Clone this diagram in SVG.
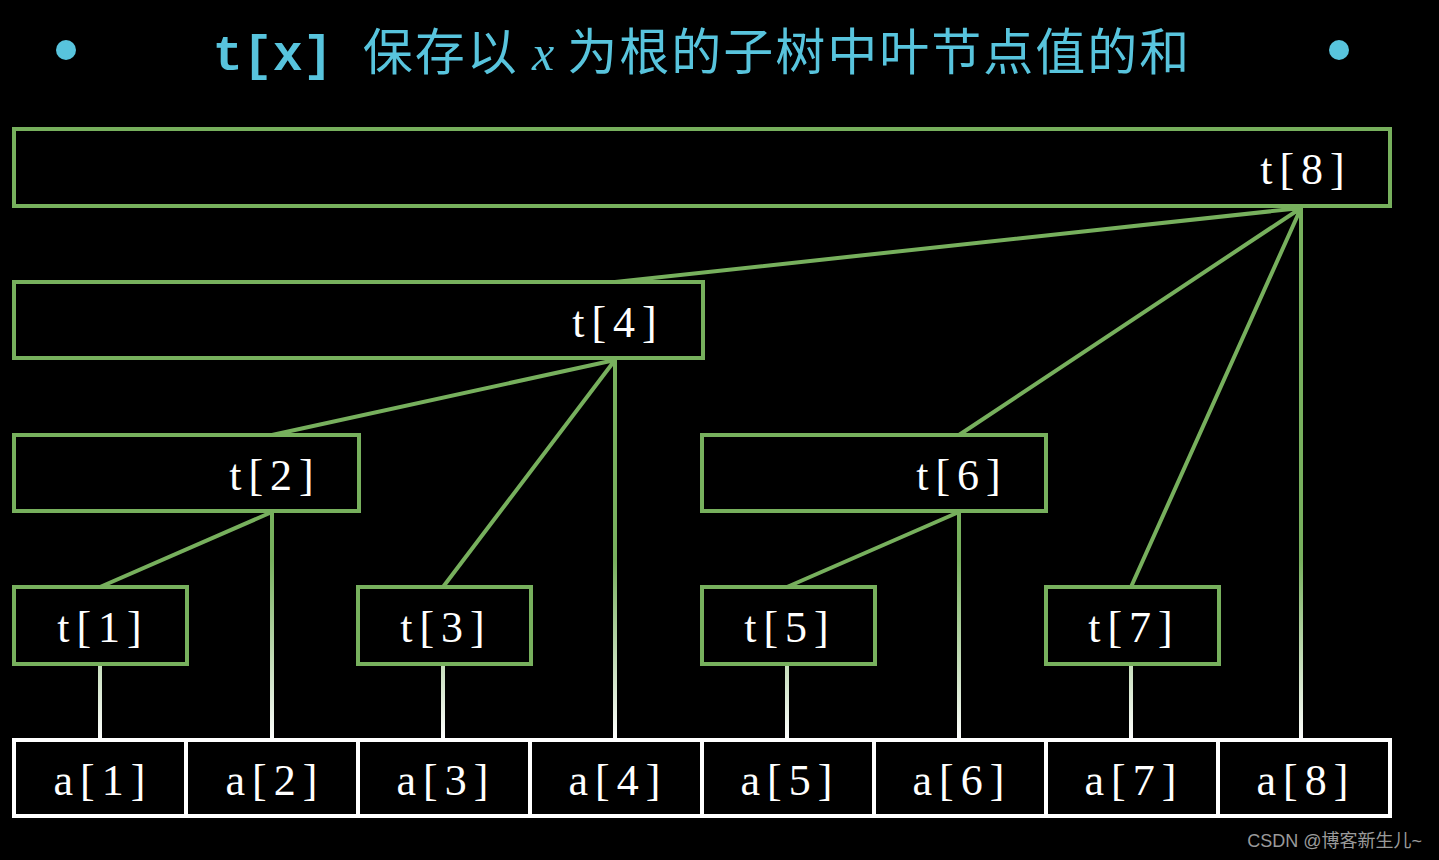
<svg xmlns="http://www.w3.org/2000/svg" width="1439" height="860" viewBox="0 0 1439 860">
<style>
.t{fill:none;stroke:#77b05d;stroke-width:4}
.a{fill:none;stroke:#ffffff;stroke-width:4}
.l{fill:#ffffff;font-family:"Liberation Serif",serif;font-size:44px;text-anchor:middle;letter-spacing:7px}
.e{stroke:#77b05d;stroke-width:4;fill:none}
.v{stroke:url(#g);stroke-width:4;fill:none}
</style>
<defs>
<linearGradient id="g" gradientUnits="userSpaceOnUse" x1="0" y1="560" x2="0" y2="740">
<stop offset="0" stop-color="#77b05d"/><stop offset="1" stop-color="#ffffff"/>
</linearGradient>
</defs>
<rect width="1439" height="860" fill="#000"/>
<g id="title">
<circle cx="66" cy="50" r="10" fill="#58c4dd"/>
<circle cx="1339" cy="50" r="10" fill="#58c4dd"/>
<text x="702" y="70" fill="#58c4dd" font-size="50" text-anchor="middle" font-family="'Liberation Mono','Noto Sans CJK SC',monospace"><tspan font-weight="bold">t[x]</tspan> <tspan font-family="'Noto Sans CJK SC',sans-serif" letter-spacing="2">保存以 </tspan><tspan font-family="'Liberation Serif',serif" font-style="italic">x</tspan><tspan font-family="'Noto Sans CJK SC',sans-serif" letter-spacing="2"> 为根的子树中叶节点值的和</tspan></text>
</g>
<g id="connectors">
<path class="e" d="M1301 208L615 282M1301 208L959 435M1301 208L1131 587M615 360L272 435M615 360L443 587M272 512L100 587M959 512L787 587"/>
<path class="v" d="M1301 208V740M615 360V740M272 512V740M959 512V740M100 665V740M443 665V740M787 665V740M1131 665V740"/>
</g>
<g id="t8"><rect class="t" x="14" y="129" width="1376" height="77"/><text class="l" x="1306" y="184">t[8]</text></g>
<g id="t4"><rect class="t" x="14" y="282" width="689" height="76"/><text class="l" x="618" y="337">t[4]</text></g>
<g id="t2"><rect class="t" x="14" y="435" width="345" height="76"/><text class="l" x="275" y="490">t[2]</text></g>
<g id="t6"><rect class="t" x="702" y="435" width="344" height="76"/><text class="l" x="962" y="490">t[6]</text></g>
<g id="t1"><rect class="t" x="14" y="587" width="173" height="77"/><text class="l" x="103" y="642">t[1]</text></g>
<g id="t3"><rect class="t" x="358" y="587" width="173" height="77"/><text class="l" x="446" y="642">t[3]</text></g>
<g id="t5"><rect class="t" x="702" y="587" width="173" height="77"/><text class="l" x="790" y="642">t[5]</text></g>
<g id="t7"><rect class="t" x="1046" y="587" width="173" height="77"/><text class="l" x="1134" y="642">t[7]</text></g>
<g id="a1"><rect class="a" x="14" y="740" width="172" height="76"/><text class="l" x="103" y="795">a[1]</text></g>
<g id="a2"><rect class="a" x="186" y="740" width="172" height="76"/><text class="l" x="275" y="795">a[2]</text></g>
<g id="a3"><rect class="a" x="358" y="740" width="172" height="76"/><text class="l" x="446" y="795">a[3]</text></g>
<g id="a4"><rect class="a" x="530" y="740" width="172" height="76"/><text class="l" x="618" y="795">a[4]</text></g>
<g id="a5"><rect class="a" x="702" y="740" width="172" height="76"/><text class="l" x="790" y="795">a[5]</text></g>
<g id="a6"><rect class="a" x="874" y="740" width="172" height="76"/><text class="l" x="962" y="795">a[6]</text></g>
<g id="a7"><rect class="a" x="1046" y="740" width="172" height="76"/><text class="l" x="1134" y="795">a[7]</text></g>
<g id="a8"><rect class="a" x="1218" y="740" width="172" height="76"/><text class="l" x="1306" y="795">a[8]</text></g>
<text x="1422" y="847" fill="#9a9a9a" font-size="18" text-anchor="end" font-family="'Liberation Sans','Noto Sans CJK SC',sans-serif">CSDN @博客新生儿~</text>
</svg>
